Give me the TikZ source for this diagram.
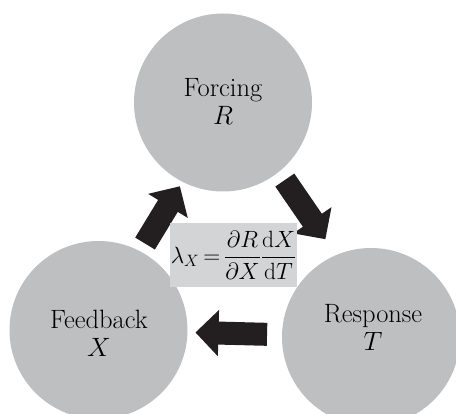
\RequirePackage{fix-cm}
\documentclass[tikz,border=0pt]{standalone}
\usepackage{amsmath}
\usepackage{tikz}
\usetikzlibrary{arrows.meta, positioning}
\definecolor{ballgray}{RGB}{190,191,193}
\definecolor{boxgray}{RGB}{211,212,214}
\definecolor{arrowblack}{RGB}{35,31,32}

\begin{document}
\begin{tikzpicture}[x=1pt, y=-1pt]
	\tikzset{ball/.style={circle, fill=ballgray, inner sep=0, minimum size=178pt}}
	\tikzset{txt/.style={align=center, font=\fontsize{26.5}{28}\selectfont}}
	\tikzset{ar/.style={-{Triangle[width=45pt, length=23pt]}, draw=arrowblack, line width=23pt}}
	\tikzset{formbox/.style={fill=boxgray, inner sep=0, minimum width=127pt, minimum height=64pt, font=\fontsize{23.5}{26}\selectfont}}
	\useasboundingbox (0,0) rectangle (456,414);
	\clip (0,0) rectangle (456,414);
	\node[ball] at (223,102.5) (forc) {};
	\node[ball] at (98.5,330) (feed) {};
	\node[ball] at (371,337) (resp) {};
	\node[txt] at (223,101) (forc-t) {Forcing\\$R$};
	\node[txt] at (99,333) (feed-t) {Feedback\\$X$};
	\node[txt] at (373,327) (resp-t) {Response\\$T$};
	\draw[ar, shorten <=9pt, shorten >=5pt] (feed.62) -- (forc.243);
	\draw[ar, shorten <=10pt, shorten >=19pt] (forc.-51) -- (resp.113);
	\draw[ar, shorten <=104pt, shorten >=97pt] (resp.center) -- (feed.center);
	\node[formbox] at (233.5,255) (lam) {$\displaystyle\lambda_X\,{=}\,\frac{\partial R}{\partial X}\frac{\mathrm{d}X}{\mathrm{d}T}$};
\end{tikzpicture}
\end{document}
